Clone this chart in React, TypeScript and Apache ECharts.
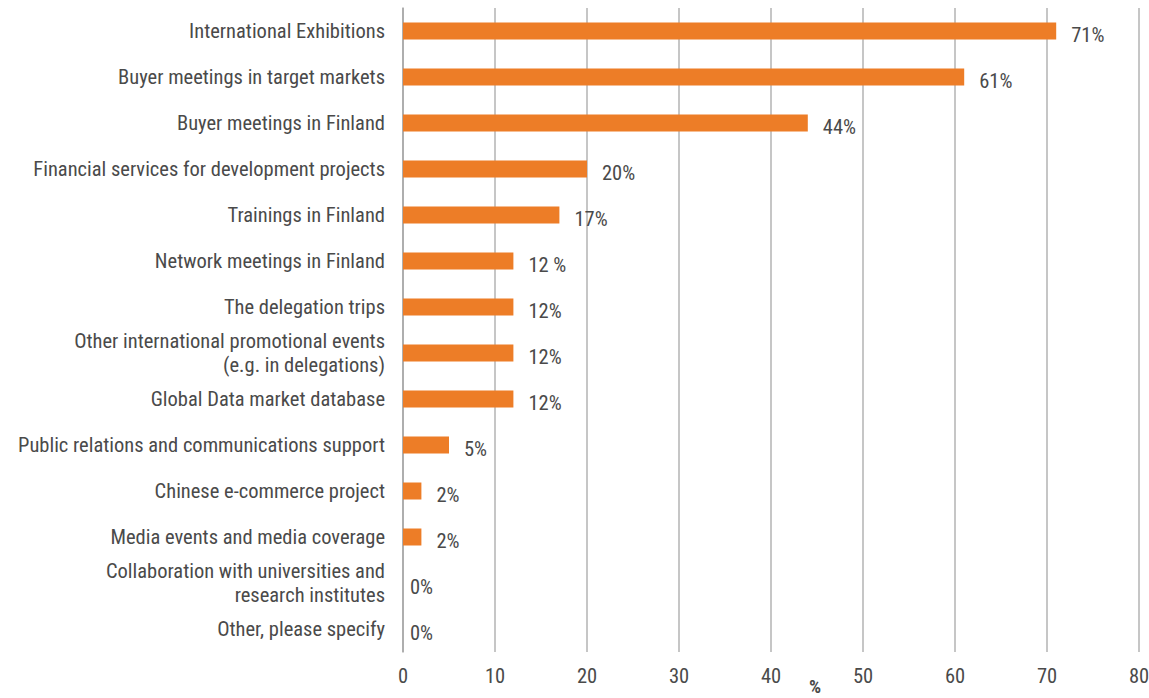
import React, { useEffect, useRef } from "react";
import * as echarts from "echarts";

const categories = [
  "International Exhibitions",
  "Buyer meetings in target markets",
  "Buyer meetings in Finland",
  "Financial services for development projects",
  "Trainings in Finland",
  "Network meetings in Finland",
  "The delegation trips",
  "Other international promotional events\n(e.g. in delegations)",
  "Global Data market database",
  "Public relations and communications support",
  "Chinese e-commerce project",
  "Media events and media coverage",
  "Collaboration with universities and\nresearch institutes",
  "Other, please specify",
];
const values = [71, 61, 44, 20, 17, 12, 12, 12, 12, 5, 2, 2, 0, 0];
const valueLabels = ["71%", "61%", "44%", "20%", "17%", "12 %", "12%", "12%", "12%", "5%", "2%", "2%", "0%", "0%"];
const xTicks = [0, 10, 20, 30, 40, 50, 60, 70, 80];
const xAxisName = "%";

const FONT = "'Roboto Condensed', 'DejaVu Sans', sans-serif";
const TEXT = "#4a4a4a";

export default function App() {
  const ref = useRef<HTMLDivElement>(null);
  useEffect(() => {
    if (!ref.current) return;
    const chart = echarts.init(ref.current, null, { renderer: "svg" });
    const barData = values.map((v) => (v === 0 ? { value: v, label: { distance: 7 } } : v));
    chart.setOption({
      animation: false,
      grid: { left: 403, right: 10, top: 8, bottom: 46, containLabel: false, outerBoundsMode: "none" },
      graphic: {
        elements: [
          {
            type: "text",
            x: 815,
            y: 686,
            style: {
              text: xAxisName,
              fontFamily: FONT,
              fontSize: 19,
              lineHeight: 18,
              fontWeight: "bold",
              fill: TEXT,
              textAlign: "center",
              textVerticalAlign: "middle",
            },
          },
        ],
      },
      xAxis: {
        type: "value",
        min: xTicks[0],
        max: xTicks[xTicks.length - 1],
        interval: 10,
        axisLine: { show: false },
        axisTick: { show: false },
        axisLabel: { fontFamily: FONT, fontSize: 20.5, color: TEXT, margin: 13 },
        splitLine: { show: true, lineStyle: { color: "#b3b3b3", width: 1.5 } },
      },
      yAxis: {
        type: "category",
        data: categories,
        inverse: true,
        axisLine: { show: true, lineStyle: { color: "#a6a6a6", width: 1.5 } },
        axisTick: { show: false },
        axisLabel: { fontFamily: FONT, fontSize: 20.5, color: TEXT, margin: 18, lineHeight: 24 },
      },
      series: [
        {
          type: "bar",
          data: barData,
          barWidth: 17,
          itemStyle: { color: "#ED7D27" },
          label: {
            show: true,
            position: "right",
            distance: 15,
            offset: [0, 4],
            fontFamily: FONT,
            fontSize: 20.5,
            color: TEXT,
            formatter: (p: any) => valueLabels[p.dataIndex],
          },
        },
      ],
    });
    return () => chart.dispose();
  }, []);
  return <div ref={ref} style={{ width: 1149, height: 698, position: "absolute", left: 0, top: 0 }} />;
}
